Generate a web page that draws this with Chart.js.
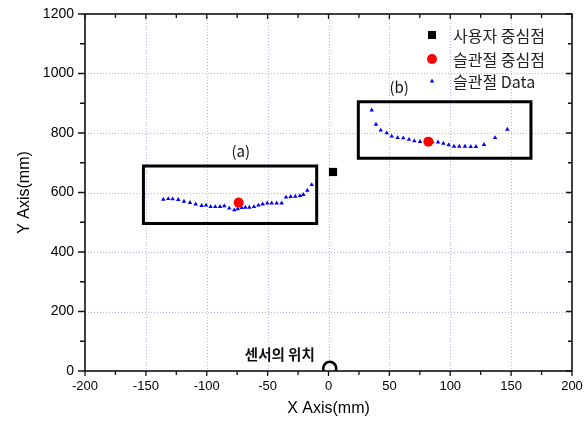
<!DOCTYPE html>
<html><head><meta charset="utf-8">
<script src="https://cdn.jsdelivr.net/npm/chart.js@4/dist/chart.umd.min.js"></script>
<style>html,body{margin:0;padding:0;background:#fff}#wrap{width:586px;height:429px}</style>
</head><body><div id="wrap"><canvas id="c" width="586" height="429"></canvas></div>
<script>
// ---- data ----
const kneeAX = [-135.7,-131.6,-128.0,-123.4,-118.7,-113.8,-109.1,-104.2,-100.6,-96.8,-93.0,-89.1,-85.6,-81.5,-77.4,-74.6,-71.3,-68.3,-65.0,-61.2,-57.6,-54.1,-50.3,-46.7,-42.6,-38.5,-34.9,-31.1,-27.3,-23.4,-20.7,-17.4,-13.8];
const kneeAY = [577,579,578,576,570,566,561,556,557,552,552,552,555,547,541,545,549,550,550,552,557,561,564,564,564,564,584,586,587,589,593,607,626];
const kneeBX = [35.5,39.0,42.9,47.8,51.9,56.8,61.4,66.1,70.5,75.2,80.7,85.3,89.9,94.3,98.7,103.1,107.4,112.1,116.8,121.1,127.7,136.8,146.9];
const kneeBY = [877,829,809,800,789,784,783,778,773,771,771,770,769,765,760,755,755,755,754,754,761,784,812];
const kneeCenterX = [-73.8, 82.0];
const kneeCenterY = [566, 771];
const userCenterX = [3.7];
const userCenterY = [669];
const sensorX = [1];
const sensorY = [9];
const boxAX = [-152, -152, -9.7, -9.7, -152];
const boxAY = [496, 689, 689, 496, 496];
const boxBX = [24.5, 24.5, 166.3, 166.3, 24.5];
const boxBY = [715, 905, 905, 715, 715];
const annText = ['(a)', '(b)', '센서의 위치'];
const annX = [-72, 58, -40];
const annY = [739, 955, 57];
const seriesLabels = ['사용자 중심점', '슬관절 중심점', '슬관절 Data'];
const xTitle = 'X Axis(mm)';
const yTitle = 'Y Axis(mm)';

const pts = (xs, ys) => xs.map((v, i) => ({x: v, y: ys[i]}));
const NUM = '"Liberation Sans", Arial, sans-serif';
const KR = '"Noto Sans CJK KR", "Noto Sans", sans-serif';

const deco = {
  id: 'deco',
  beforeDatasetsDraw(chart) {
    const {ctx, chartArea: a, scales: {x, y}} = chart;
    ctx.save();
    ctx.strokeStyle = 'rgba(130,130,240,0.6)';
    ctx.lineWidth = 1;
    ctx.setLineDash([1, 2]);
    x.ticks.forEach(t => {
      if (t.value <= x.min || t.value >= x.max) return;
      const p = Math.round(x.getPixelForValue(t.value)) + 0.5;
      ctx.beginPath(); ctx.moveTo(p, a.top); ctx.lineTo(p, a.bottom); ctx.stroke();
    });
    y.ticks.forEach(t => {
      if (t.value <= y.min || t.value >= y.max) return;
      const p = Math.round(y.getPixelForValue(t.value)) + 0.5;
      ctx.beginPath(); ctx.moveTo(a.left, p); ctx.lineTo(a.right, p); ctx.stroke();
    });
    ctx.restore();
  },
  afterDatasetsDraw(chart) {
    const {ctx, chartArea: a, scales: {x, y}} = chart;
    ctx.save();
    ctx.strokeStyle = '#111';
    ctx.lineWidth = 1.6;
    ctx.setLineDash([]);
    ctx.strokeRect(a.left, a.top, a.right - a.left, a.bottom - a.top);
    ctx.lineWidth = 1.3;
    ctx.beginPath();
    for (let v = x.min; v <= x.max; v += 25) {
      const p = x.getPixelForValue(v);
      const L = (v % 50 === 0) ? 5 : 4;
      ctx.moveTo(p, a.bottom); ctx.lineTo(p, a.bottom + L);
      ctx.moveTo(p, a.top); ctx.lineTo(p, a.top + L);
    }
    for (let v = y.min; v <= y.max; v += 100) {
      const p = y.getPixelForValue(v);
      const L = (v % 200 === 0) ? 7 : 5;
      ctx.moveTo(a.left, p); ctx.lineTo(a.left - L, p);
      ctx.moveTo(a.right, p); ctx.lineTo(a.right - L + 1, p);
    }
    ctx.stroke();
    // annotations
    ctx.fillStyle = '#111';
    ctx.textAlign = 'center';
    ctx.textBaseline = 'middle';
    annText.forEach((t, i) => {
      ctx.font = (i === 2 ? 'bold 14.5px ' : '15px ') + KR;
      ctx.fillText(t, x.getPixelForValue(annX[i]), y.getPixelForValue(annY[i]));
    });
    // legend
    const lx = 432, tx = 453, rows = [35, 59, 81];
    ctx.fillStyle = '#000';
    ctx.fillRect(lx - 4, rows[0] - 4, 8, 8);
    ctx.fillStyle = '#ff0000';
    ctx.beginPath(); ctx.arc(lx, rows[1], 5, 0, Math.PI * 2); ctx.fill();
    ctx.fillStyle = '#0000ff';
    ctx.beginPath(); ctx.moveTo(lx, rows[2] - 2.5); ctx.lineTo(lx + 2.2, rows[2] + 1.5); ctx.lineTo(lx - 2.2, rows[2] + 1.5); ctx.closePath(); ctx.fill();
    ctx.fillStyle = '#222';
    ctx.textAlign = 'left';
    ctx.font = '16px ' + KR;
    seriesLabels.forEach((t, i) => ctx.fillText(t, tx, rows[i] + 1));
    ctx.restore();
  }
};

function zeroPad(s) { s.paddingTop = 0; s.paddingBottom = 0; s.paddingLeft = 0; s.paddingRight = 0; }

new Chart(document.getElementById('c'), {
  type: 'scatter',
  data: {
    datasets: [
      {label: seriesLabels[1], data: pts(kneeCenterX, kneeCenterY), pointStyle: 'circle', pointRadius: 5, backgroundColor: '#ff0000', borderColor: '#ff0000', borderWidth: 0},
      {label: seriesLabels[0], data: pts(userCenterX, userCenterY), pointStyle: 'rect', pointRadius: 5.8, backgroundColor: '#000', borderColor: '#000', borderWidth: 0},
      {label: seriesLabels[2], data: pts(kneeAX, kneeAY), pointStyle: 'triangle', pointRadius: 2.6, backgroundColor: '#0000ff', borderColor: '#0000ff', borderWidth: 0},
      {label: seriesLabels[2] + ' b', data: pts(kneeBX, kneeBY), pointStyle: 'triangle', pointRadius: 2.6, backgroundColor: '#0000ff', borderColor: '#0000ff', borderWidth: 0},
      {label: 'sensor', data: pts(sensorX, sensorY), pointStyle: 'circle', pointRadius: 6.5, backgroundColor: 'rgba(0,0,0,0)', borderColor: '#000', borderWidth: 2.6},
      {label: 'box a', type: 'line', data: pts(boxAX, boxAY), showLine: true, fill: false, pointRadius: 0, borderColor: '#000', borderWidth: 3, tension: 0, borderCapStyle: 'square', borderJoinStyle: 'miter'},
      {label: 'box b', type: 'line', data: pts(boxBX, boxBY), showLine: true, fill: false, pointRadius: 0, borderColor: '#000', borderWidth: 3, tension: 0, borderCapStyle: 'square', borderJoinStyle: 'miter'}
    ]
  },
  options: {
    responsive: false,
    animation: false,
    events: [],
    layout: {padding: {top: 14, right: 14, left: 0, bottom: 0}},
    plugins: {legend: {display: false}, tooltip: {enabled: false}},
    scales: {
      x: {
        type: 'linear', min: -200, max: 200,
        grid: {display: false, drawTicks: false},
        border: {display: false},
        ticks: {stepSize: 50, color: '#000', font: {family: NUM, size: 13}, padding: 8, maxRotation: 0, autoSkip: false, callback: v => String(v)},
        title: {display: true, text: xTitle, color: '#000', font: {family: NUM, size: 16}, padding: {top: 0, bottom: 11}},
        afterFit(s) { s.height = 58; zeroPad(s); }
      },
      y: {
        type: 'linear', min: 0, max: 1200,
        grid: {display: false, drawTicks: false},
        border: {display: false},
        ticks: {stepSize: 200, color: '#000', font: {family: NUM, size: 14}, padding: 11, callback: v => String(v)},
        title: {display: true, text: yTitle, color: '#000', font: {family: NUM, size: 16}, padding: {top: 15, bottom: 0}},
        afterFit(s) { s.width = 85; zeroPad(s); }
      }
    }
  },
  plugins: [deco]
});
</script>
</body></html>
